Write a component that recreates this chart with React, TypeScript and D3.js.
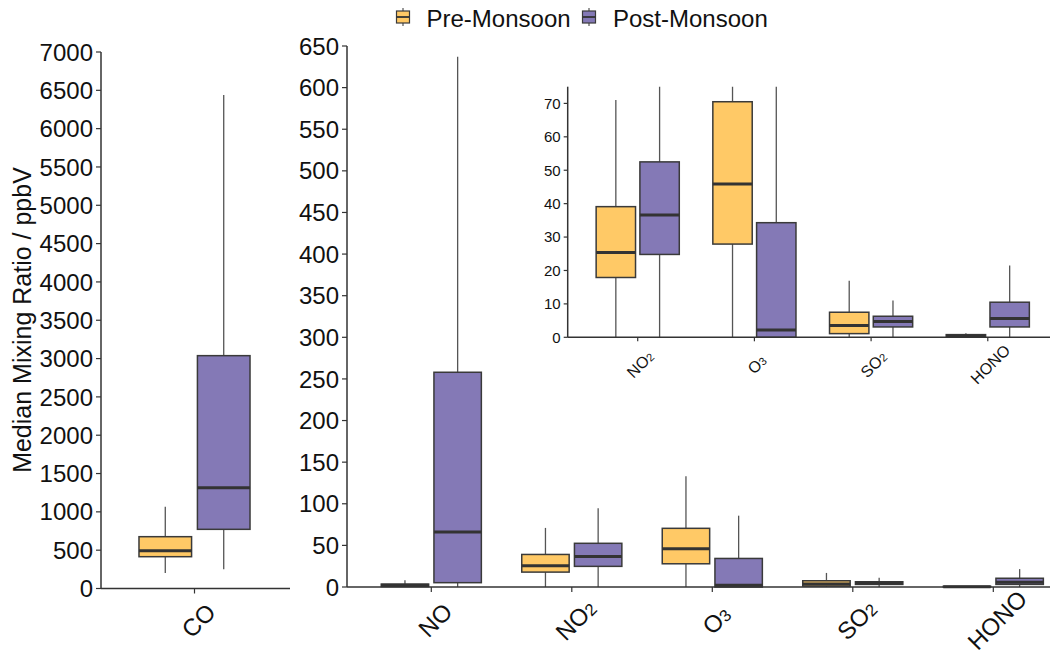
import React from "react";
import * as d3 from "d3";

// Pollutant categories for the main panel and the zoomed inset
const categories = ["NO", "NO2", "O3", "SO2", "HONO"];
const insetCategories = ["NO2", "O3", "SO2", "HONO"];
const seasons = ["Pre-Monsoon", "Post-Monsoon"];
const seasonColors = ["#FFC966", "#8479B6"];

// Box statistics per category: [lower whisker, Q1, median, Q3, upper whisker] (ppbV)
const preMonsoon = [
  [0, 0.5, 2, 3.5, 8],
  [0, 17.9, 25.4, 39.1, 71],
  [0, 27.9, 45.9, 70.5, 133],
  [0, 1.1, 3.5, 7.5, 16.9],
  [0, 0.1, 0.4, 0.8, 1.2],
];
const postMonsoon = [
  [0, 5.2, 66, 258, 637],
  [0, 24.8, 36.6, 52.5, 94.6],
  [0, 0, 2.2, 34.3, 85.7],
  [0, 3.1, 4.7, 6.3, 11],
  [0, 3.1, 5.6, 10.5, 21.5],
];
// CO is on its own scale
const coPre = [202, 415, 493, 676, 1067];
const coPost = [250, 772, 1315, 3038, 6439];

const coTicks = d3.range(0, 7001, 500);
const mainTicks = d3.range(0, 651, 50);
const insetTicks = d3.range(0, 71, 10);

const FONT = "'Liberation Sans', Arial, sans-serif";
const AXIS = "#333333";
const TEXT = "#111111";

// Renders labels like NO2 / O3 with the trailing digits in a smaller size
function Formula({ name, size }: { name: string; size: number }) {
  const m = name.match(/^([A-Za-z]+?)(\d*)$/);
  const base = m ? m[1] : name;
  const sub = m ? m[2] : "";
  return (
    <>
      <tspan>{base}</tspan>
      {sub && (
        <tspan fontSize={size * 0.7} dy={size * 0.02}>
          {sub}
        </tspan>
      )}
    </>
  );
}

type Stats = number[];

function Box({
  cx,
  width,
  y,
  s,
  fill,
}: {
  cx: number;
  width: number;
  y: d3.ScaleLinear<number, number>;
  s: Stats;
  fill: string;
}) {
  const [lo, q1, med, q3, hi] = s;
  const x0 = cx - width / 2;
  return (
    <g>
      <line x1={cx} x2={cx} y1={y(hi)} y2={y(q3)} stroke="#555" strokeWidth={1.3} />
      <line x1={cx} x2={cx} y1={y(q1)} y2={y(lo)} stroke="#555" strokeWidth={1.3} />
      <rect
        x={x0}
        y={y(q3)}
        width={width}
        height={Math.max(0, y(q1) - y(q3))}
        fill={fill}
        stroke="#3a3a3a"
        strokeWidth={1.5}
      />
      <line x1={x0} x2={x0 + width} y1={y(med)} y2={y(med)} stroke="#333" strokeWidth={3} />
    </g>
  );
}

function YAxis({
  x,
  y,
  ticks,
  fontSize,
  tickLen,
}: {
  x: number;
  y: d3.ScaleLinear<number, number>;
  ticks: number[];
  fontSize: number;
  tickLen: number;
}) {
  const [r0, r1] = y.range();
  return (
    <g>
      <line x1={x} x2={x} y1={r0} y2={r1} stroke={AXIS} strokeWidth={1.5} />
      {ticks.map((t) => (
        <g key={t}>
          <line x1={x - tickLen} x2={x} y1={y(t)} y2={y(t)} stroke={AXIS} strokeWidth={1.2} />
          <text
            x={x - tickLen - 3}
            y={y(t)}
            dy="0.36em"
            textAnchor="end"
            fontSize={fontSize}
            fill={TEXT}
            fontFamily={FONT}
          >
            {t}
          </text>
        </g>
      ))}
    </g>
  );
}

function XAxis({
  x,
  y0,
  x0,
  x1,
  cats,
  fontSize,
  tickLen,
  dx,
  dy,
}: {
  x: d3.ScalePoint<string>;
  y0: number;
  x0: number;
  x1: number;
  cats: string[];
  fontSize: number;
  tickLen: number;
  dx: number;
  dy: number;
}) {
  return (
    <g>
      <line x1={x0} x2={x1} y1={y0} y2={y0} stroke={AXIS} strokeWidth={1.5} />
      {cats.map((c) => {
        const px = x(c)!;
        return (
          <g key={c}>
            <line x1={px} x2={px} y1={y0} y2={y0 + tickLen} stroke={AXIS} strokeWidth={1.2} />
            <text
              transform={`translate(${px + dx},${y0 + dy}) rotate(-45)`}
              textAnchor="middle"
              fontSize={fontSize}
              fill={TEXT}
              fontFamily={FONT}
            >
              <Formula name={c} size={fontSize} />
            </text>
          </g>
        );
      })}
    </g>
  );
}

// Horizontal dodge used by each pair of boxes (in units of category step)
const DODGE = 0.1875;
const BOXW = 0.3375;

export default function App() {
  // Left panel: CO
  const coY = d3.scaleLinear().domain([0, 7000]).range([588.5, 52]);
  const coX = d3.scalePoint<string>().domain(["CO"]).range([101, 288]).padding(0.6);
  const coStep = coX.step();

  // Main panel
  const mainY = d3.scaleLinear().domain([0, 650]).range([587, 46]);
  const mainX = d3.scalePoint<string>().domain(categories).range([347, 1077.6]).padding(0.6);
  const mStep = mainX.step();

  // Inset panel (zoomed to 0–75)
  const inY = d3.scaleLinear().domain([0, 75]).range([337.3, 86.7]);
  const inX = d3.scalePoint<string>().domain(insetCategories).range([567.7, 1057.8]).padding(0.6);
  const iStep = inX.step();

  const series = [preMonsoon, postMonsoon];

  return (
    <svg
      width={1050}
      height={652}
      style={{ position: "absolute", left: 0, top: 0, background: "#fff" }}
      fontFamily={FONT}
    >
      <rect width={1050} height={652} fill="#fff" />

      {/* Legend */}
      {seasons.map((s, i) => {
        const kx = [403, 589][i];
        const tx = [426.5, 613][i];
        return (
          <g key={s}>
            <line x1={kx} x2={kx} y1={8} y2={26} stroke="#555" strokeWidth={1.2} />
            <rect x={kx - 6.5} y={11} width={13} height={12} fill={seasonColors[i]} stroke="#3a3a3a" strokeWidth={1.2} />
            <line x1={kx - 6.5} x2={kx + 6.5} y1={17} y2={17} stroke="#333" strokeWidth={1.8} />
            <text x={tx} y={26.5} fontSize={24} fill={TEXT}>
              {s}
            </text>
          </g>
        );
      })}

      {/* Y axis title */}
      <text
        transform={`translate(31,320) rotate(-90)`}
        textAnchor="middle"
        fontSize={25}
        fill={TEXT}
      >
        Median Mixing Ratio / ppbV
      </text>

      {/* CO panel */}
      <g>
        {[coPre, coPost].map((s, i) => (
          <Box
            key={i}
            cx={coX("CO")! + (i === 0 ? -1 : 1) * DODGE * coStep}
            width={BOXW * coStep}
            y={coY}
            s={s}
            fill={seasonColors[i]}
          />
        ))}
        <YAxis x={101} y={coY} ticks={coTicks} fontSize={24} tickLen={5} />
        <XAxis x={coX} y0={588.5} x0={101} x1={290} cats={["CO"]} fontSize={24} tickLen={5} dx={10} dy={38} />
      </g>

      {/* Main panel */}
      <g>
        {categories.map((c, ci) =>
          series.map((ser, si) => (
            <Box
              key={c + si}
              cx={mainX(c)! + (si === 0 ? -1 : 1) * DODGE * mStep}
              width={BOXW * mStep}
              y={mainY}
              s={ser[ci]}
              fill={seasonColors[si]}
            />
          ))
        )}
        <YAxis x={347} y={mainY} ticks={mainTicks} fontSize={24} tickLen={5} />
        <XAxis x={mainX} y0={587} x0={347} x1={1077.6} cats={categories} fontSize={24} tickLen={5} dx={10} dy={39} />
      </g>

      {/* Inset panel */}
      <g>
        <rect x={520} y={80} width={530} height={320} fill="#fff" />
        <clipPath id="inset-clip">
          <rect x={567.7} y={86.7} width={490} height={250.6} />
        </clipPath>
        <g clipPath="url(#inset-clip)">
          {insetCategories.map((c) => {
            const ci = categories.indexOf(c);
            return series.map((ser, si) => (
              <Box
                key={c + si}
                cx={inX(c)! + (si === 0 ? -1 : 1) * DODGE * iStep}
                width={BOXW * iStep}
                y={inY}
                s={ser[ci]}
                fill={seasonColors[si]}
              />
            ));
          })}
        </g>
        <YAxis x={567.7} y={inY} ticks={insetTicks} fontSize={15} tickLen={4} />
        <XAxis x={inX} y0={337.3} x0={567.7} x1={1057.8} cats={insetCategories} fontSize={16} tickLen={4} dx={6.5} dy={31} />
      </g>
    </svg>
  );
}
